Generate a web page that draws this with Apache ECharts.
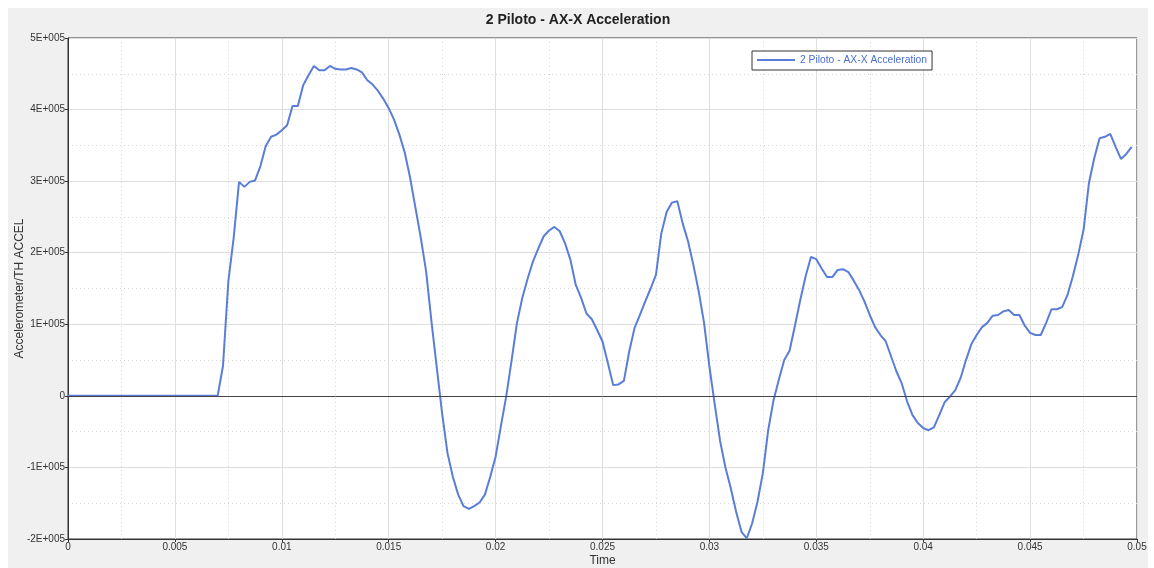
<!DOCTYPE html>
<html>
<head>
<meta charset="utf-8">
<script src="https://cdn.jsdelivr.net/npm/echarts@6/dist/echarts.min.js"></script>
<style>
  html, body { margin: 0; padding: 0; background: #fff; }
  #chart { position: absolute; left: 8px; top: 8px; width: 1140px; height: 560px; background: #f0f0f0; }
</style>
</head>
<body>
<div id="chart"></div>
<script>
// 曲线数据：时间 / 加速度
var times = [0, 0.007, 0.00725, 0.0075, 0.00775, 0.008, 0.00825, 0.0085, 0.00875, 0.009, 0.00925, 0.0095, 0.00975,
  0.01, 0.01025, 0.0105, 0.01075, 0.011, 0.01125, 0.0115, 0.01175, 0.012, 0.01225, 0.0125, 0.01275,
  0.013, 0.01325, 0.0135, 0.01375, 0.014, 0.01425, 0.0145, 0.01475, 0.015, 0.01525, 0.0155, 0.01575,
  0.016, 0.01625, 0.0165, 0.01675, 0.017, 0.01725, 0.0175, 0.01775, 0.018, 0.01825, 0.0185, 0.01875,
  0.019, 0.01925, 0.0195, 0.01975, 0.02, 0.02025, 0.0205, 0.02075, 0.021, 0.02125, 0.0215, 0.02175,
  0.022, 0.02225, 0.0225, 0.02275, 0.023, 0.02325, 0.0235, 0.02375, 0.024, 0.02425, 0.0245, 0.02475,
  0.025, 0.02525, 0.0255, 0.02575, 0.026, 0.02625, 0.0265, 0.02675, 0.027, 0.02725, 0.0275, 0.02775,
  0.028, 0.02825, 0.0285, 0.02875, 0.029, 0.02925, 0.0295, 0.02975, 0.03, 0.03025, 0.0305, 0.03075,
  0.031, 0.03125, 0.0315, 0.03175, 0.032, 0.03225, 0.0325, 0.03275, 0.033, 0.03325, 0.0335, 0.03375,
  0.034, 0.03425, 0.0345, 0.03475, 0.035, 0.03525, 0.0355, 0.03575, 0.036, 0.03625, 0.0365, 0.03675,
  0.037, 0.03725, 0.0375, 0.03775, 0.038, 0.03825, 0.0385, 0.03875, 0.039, 0.03925, 0.0395, 0.03975,
  0.04, 0.04025, 0.0405, 0.04075, 0.041, 0.04125, 0.0415, 0.04175, 0.042, 0.04225, 0.0425, 0.04275,
  0.043, 0.04325, 0.0435, 0.04375, 0.044, 0.04425, 0.0445, 0.04475, 0.045, 0.04525, 0.0455, 0.04575,
  0.046, 0.04625, 0.0465, 0.04675, 0.047, 0.04725, 0.0475, 0.04775, 0.048, 0.04825, 0.0485, 0.04875,
  0.049, 0.04925, 0.0495, 0.04975]
var accel = [0, 0, 42000, 160000, 221000, 299000, 292000, 299000, 301000, 321000, 349000, 362000, 365000,
  371000, 378000, 405000, 405000, 434000, 448000, 461000, 455000, 455000, 461000, 457000, 456000,
  456000, 458000, 456000, 452000, 441000, 435000, 426000, 415000, 402000, 386000, 365000, 340000,
  305000, 263000, 221000, 174000, 104000, 39000, -25000, -80000, -113000, -138000, -154000, -158000,
  -154000, -149000, -138000, -113000, -85000, -42000, 0, 50000, 102000, 137000, 164000, 188000,
  206000, 223000, 231000, 236000, 230000, 213000, 190000, 155000, 137000, 115000, 107000, 92000,
  76000, 46000, 15000, 16000, 21000, 62000, 95000, 113000, 132000, 150000, 169000, 227000,
  257000, 270000, 272000, 241000, 216000, 183000, 146000, 102000, 41000, -12000, -63000, -100000,
  -129000, -162000, -190000, -199000, -178000, -148000, -108000, -48000, -6000, 23000, 50000, 63000,
  98000, 134000, 167000, 194000, 191000, 178000, 166000, 166000, 176000, 177000, 173000, 161000,
  148000, 132000, 113000, 96000, 85000, 76000, 55000, 34000, 17000, -8000, -27000, -38000,
  -45000, -48000, -44000, -27000, -9000, -1000, 8000, 25000, 50000, 72000, 85000, 96000,
  102000, 112000, 113000, 118000, 120000, 113000, 113000, 98000, 88000, 85000, 85000, 102000,
  121000, 121000, 124000, 141000, 167000, 197000, 232000, 297000, 332000, 360000, 362000, 366000,
  348000, 331000, 338000, 348000]
var seriesName = '2 Piloto - AX-X Acceleration'
var yTicks = [-200000, -100000, 0, 100000, 200000, 300000, 400000, 500000]

var points = times.map(function (t, i) { return [t, accel[i]] })

var myChart = echarts.init(document.getElementById('chart'))
var fontFam = 'Arial, "Liberation Sans", sans-serif'
var option = {
  animation: false,
  backgroundColor: 'transparent',
  title: {
    text: seriesName,
    left: 'center',
    top: 0,
    textStyle: { color: '#222', fontSize: 14, fontWeight: 'bold', fontFamily: fontFam }
  },
  legend: {
    left: 744,
    top: 43,
    padding: [4, 5, 5, 5],
    backgroundColor: '#fff',
    borderColor: '#333',
    borderWidth: 1,
    borderRadius: 0,
    icon: 'rect',
    itemWidth: 38,
    itemHeight: 2,
    textStyle: { color: '#4a6fd0', fontSize: 10.3, fontFamily: fontFam },
    data: [seriesName]
  },
  grid: {
    left: 60, right: 11, top: 30, bottom: 29,
    outerBoundsMode: 'none',
    containLabel: false,
    show: true,
    backgroundColor: '#fff',
    borderColor: '#333',
    borderWidth: 1
  },
  xAxis: {
    type: 'value',
    min: 0, max: 0.05, interval: 0.005,
    name: 'Time',
    nameLocation: 'middle',
    nameGap: 16,
    nameMoveOverlap: false,
    nameTextStyle: { color: '#333', fontSize: 12, fontFamily: fontFam },
    axisLine: { show: true, onZero: false, lineStyle: { color: '#333' } },
    axisTick: { show: true, length: 3, lineStyle: { color: '#333' } },
    axisLabel: {
      color: '#333', fontSize: 10, fontFamily: fontFam, margin: 3,
      formatter: function (v) { return String(parseFloat(v.toFixed(4))) }
    },
    splitLine: { show: true, lineStyle: { color: '#dedede', width: 1 } },
    minorTick: { show: false, splitNumber: 2 },
    minorSplitLine: { show: true, lineStyle: { color: '#d8d8d8', type: [1, 3] } }
  },
  yAxis: {
    type: 'value',
    min: yTicks[0], max: yTicks[yTicks.length - 1], interval: 100000,
    name: 'Accelerometer/TH ACCEL',
    nameLocation: 'middle',
    nameGap: 48,
    nameMoveOverlap: false,
    nameTextStyle: { color: '#333', fontSize: 12, fontFamily: fontFam, verticalAlign: 'middle' },
    axisLine: { show: true, onZero: false, lineStyle: { color: '#333' } },
    axisTick: { show: true, length: 3, lineStyle: { color: '#333' } },
    axisLabel: {
      color: '#333', fontSize: 10, fontFamily: fontFam, margin: 3,
      formatter: function (v) {
        if (v === 0) return '0'
        return Math.round(v / 100000) + 'E+005'
      }
    },
    splitLine: { show: true, lineStyle: { color: '#dedede', width: 1 } },
    minorTick: { show: false, splitNumber: 2 },
    minorSplitLine: { show: true, lineStyle: { color: '#d8d8d8', type: [1, 3] } }
  },
  series: [
    {
      name: seriesName,
      type: 'line',
      data: points,
      showSymbol: false,
      symbol: 'none',
      lineStyle: { color: '#5a7dd8', width: 2 },
      itemStyle: { color: '#5a7dd8' },
      markLine: {
        silent: true,
        symbol: 'none',
        label: { show: false },
        lineStyle: { color: '#444', width: 1, type: 'solid' },
        data: [{ yAxis: 0 }]
      },
      z: 3
    }
  ]
}
myChart.setOption(option)
</script>
</body>
</html>
